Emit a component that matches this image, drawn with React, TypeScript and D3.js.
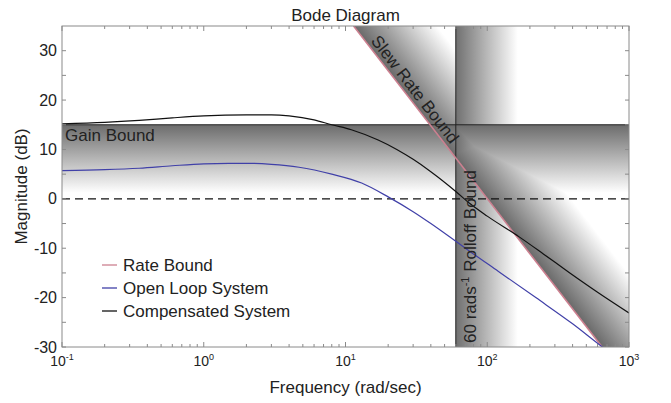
import React from 'react'
import * as d3 from 'd3'

// compensated system (black)
const compFreq = [0.1, 0.2, 0.35, 0.6, 1, 2, 3, 4, 6, 8, 11, 17, 23, 30, 40, 60, 75, 100, 168, 250, 378, 600, 1000]
const compMag = [15.2, 15.5, 15.9, 16.4, 16.8, 17.0, 17.0, 16.8, 16.0, 15.0, 14.0, 11.9, 10.0, 8.0, 5.5, 1.5, -0.9, -3.5, -7.7, -11.2, -14.9, -18.9, -23.1]

// open loop system (blue)
const openFreq = [0.1, 0.2, 0.35, 0.6, 1, 1.5, 2.1, 3, 4.7, 8, 13, 20, 30, 40, 60, 75, 120, 220, 400, 650, 1000]
const openMag = [5.7, 5.9, 6.2, 6.7, 7.1, 7.2, 7.2, 7.0, 6.4, 5.0, 3.2, 0.4, -2.6, -5.0, -8.6, -10.6, -14.7, -20.0, -25.3, -30, -33.8]

// slew rate bound line (two ends)
const rateFreq = [11.4, 646]
const rateMag = [35, -30]

const gainBound = 15
const rolloffFreq = 60

const yTicks = [-30, -20, -10, 0, 10, 20, 30]
const yMinorTicks = [-25, -15, -5, 5, 15, 25]
const xDecades = [-1, 0, 1, 2, 3]

const legendLabels = ['Rate Bound', 'Open Loop System', 'Compensated System']
const legendColors = ['#cc8090', '#4040a8', '#111111']

const W = 671
const H = 403
const left = 62
const right = 629
const top = 26
const bottom = 347
const font = '"Liberation Sans", Arial, Helvetica, sans-serif'

export default function App() {
  const x = d3.scaleLog().domain([0.1, 1000]).range([left, right])
  const y = d3.scaleLinear().domain([-30, 35]).range([bottom, top])

  const line = d3.line<[number, number]>()
    .x(d => x(d[0]))
    .y(d => y(d[1]))
    .curve(d3.curveMonotoneX)
  const straight = d3.line<[number, number]>().x(d => x(d[0])).y(d => y(d[1]))

  const compData = compFreq.map((f, i) => [f, compMag[i]] as [number, number])
  const openData = openFreq.map((f, i) => [f, openMag[i]] as [number, number])
  const rateData = rateFreq.map((f, i) => [f, rateMag[i]] as [number, number])

  // slew band geometry
  const p0 = [x(rateFreq[0]), y(rateMag[0])]
  const p1 = [x(rateFreq[1]), y(rateMag[1])]
  const len = Math.hypot(p1[0] - p0[0], p1[1] - p0[1])
  const u = [(p1[0] - p0[0]) / len, (p1[1] - p0[1]) / len]
  const n = [u[1], -u[0]]
  const big = 1200
  const slewPoly = [
    [p0[0] - u[0] * big, p0[1] - u[1] * big],
    [p1[0] + u[0] * big, p1[1] + u[1] * big],
    [p1[0] + u[0] * big + n[0] * big, p1[1] + u[1] * big + n[1] * big],
    [p0[0] - u[0] * big + n[0] * big, p0[1] - u[1] * big + n[1] * big],
  ].map(p => p.join(',')).join(' ')
  const slewAngle = Math.atan2(u[1], u[0]) * 180 / Math.PI
  const slewText = [p0[0] + u[0] * 22 + n[0] * 4, p0[1] + u[1] * 22 + n[1] * 4]

  const xr = x(rolloffFreq)
  const yg = y(gainBound)

  const minorX: number[] = []
  xDecades.slice(0, -1).forEach(k => {
    for (let m = 2; m <= 9; m++) minorX.push(m * Math.pow(10, k))
  })

  return (
    <svg width={W} height={H} style={{ position: 'absolute', left: 0, top: 0, background: '#fff' }}
      fontFamily={font}>
      <defs>
        <clipPath id="plot">
          <rect x={left} y={top} width={right - left} height={bottom - top} />
        </clipPath>
        <linearGradient id="gGain" gradientUnits="userSpaceOnUse" x1={0} y1={yg} x2={0} y2={yg + 68}>
          <stop offset="0" stopColor="#6c6c6c" />
          <stop offset="1" stopColor="#ffffff" />
        </linearGradient>
        <linearGradient id="gRoll" gradientUnits="userSpaceOnUse" x1={xr} y1={0} x2={xr + 62} y2={0}>
          <stop offset="0" stopColor="#707070" />
          <stop offset="1" stopColor="#ffffff" />
        </linearGradient>
        <linearGradient id="gSlew" gradientUnits="userSpaceOnUse"
          x1={p0[0]} y1={p0[1]} x2={p0[0] + n[0] * 66} y2={p0[1] + n[1] * 66}>
          <stop offset="0" stopColor="#6a6a6a" />
          <stop offset="1" stopColor="#ffffff" />
        </linearGradient>
      </defs>

      <text x={(left + right) / 2} y={21} textAnchor="middle" fontSize={17} fill="#222">Bode Diagram</text>

      <g clipPath="url(#plot)" style={{ isolation: 'isolate' }}>
        <rect x={left} y={top} width={right - left} height={bottom - top} fill="#fff" />
        <rect x={left} y={yg} width={right - left} height={bottom - yg} fill="url(#gGain)" style={{ mixBlendMode: 'darken' }} />
        <rect x={xr} y={top} width={right - xr} height={bottom - top} fill="url(#gRoll)" style={{ mixBlendMode: 'darken' }} />
        <polygon points={slewPoly} fill="url(#gSlew)" style={{ mixBlendMode: 'darken' }} />
      </g>

      <g clipPath="url(#plot)">
        <line x1={left} x2={right} y1={yg} y2={yg} stroke="#222" strokeWidth={1} />
        <line x1={xr} x2={xr} y1={top} y2={bottom} stroke="#222" strokeWidth={1} />
        <line x1={left} x2={right} y1={y(0)} y2={y(0)} stroke="#111" strokeWidth={1.3} strokeDasharray="8,5" />
        <path d={straight(rateData) || ''} fill="none" stroke={legendColors[0]} strokeWidth={1.6} />
        <path d={line(openData) || ''} fill="none" stroke={legendColors[1]} strokeWidth={1.2} />
        <path d={line(compData) || ''} fill="none" stroke={legendColors[2]} strokeWidth={1.2} />
      </g>

      {/* frame and ticks */}
      <rect x={left} y={top} width={right - left} height={bottom - top} fill="none" stroke="#8a8a8a" strokeWidth={1} />
      {yTicks.concat(yMinorTicks).map(t => (
        <g key={'yt' + t} stroke="#8a8a8a">
          <line x1={left} x2={left + 4} y1={y(t)} y2={y(t)} />
          <line x1={right} x2={right - 4} y1={y(t)} y2={y(t)} />
        </g>
      ))}
      {xDecades.map(k => (
        <g key={'xd' + k} stroke="#8a8a8a">
          <line x1={x(Math.pow(10, k))} x2={x(Math.pow(10, k))} y1={bottom} y2={bottom - 5} />
          <line x1={x(Math.pow(10, k))} x2={x(Math.pow(10, k))} y1={top} y2={top + 5} />
        </g>
      ))}
      {minorX.map(f => (
        <g key={'xm' + f} stroke="#8a8a8a">
          <line x1={x(f)} x2={x(f)} y1={bottom} y2={bottom - 3} />
          <line x1={x(f)} x2={x(f)} y1={top} y2={top + 3} />
        </g>
      ))}

      {yTicks.map(t => (
        <text key={'yl' + t} x={left - 5} y={y(t)} dy="0.35em" textAnchor="end" fontSize={16} fill="#222">{t}</text>
      ))}
      {xDecades.map(k => (
        <text key={'xl' + k} x={x(Math.pow(10, k))} y={366} textAnchor="middle" fontSize={14} fill="#222">
          10<tspan fontSize={9} dy={-6}>{k}</tspan>
        </text>
      ))}

      <text x={(left + right) / 2} y={393} textAnchor="middle" fontSize={17} fill="#222">Frequency (rad/sec)</text>
      <text transform={`translate(27,${(top + bottom) / 2}) rotate(-90)`} textAnchor="middle" fontSize={17} fill="#222">Magnitude (dB)</text>

      <text x={65} y={141} fontSize={17} fill="#222">Gain Bound</text>
      <text transform={`translate(${slewText[0]},${slewText[1]}) rotate(${slewAngle})`} fontSize={17} fill="#222">Slew Rate Bound</text>
      <text transform={`translate(${xr + 20},343) rotate(-90)`} fontSize={17} fill="#222">
        60 rads<tspan fontSize={11} dy={-7}>-1</tspan><tspan dy={7}> Rolloff Bound</tspan>
      </text>

      {legendLabels.map((lab, i) => (
        <g key={lab}>
          <line x1={102} x2={117} y1={265 + i * 23} y2={265 + i * 23} stroke={legendColors[i]} strokeWidth={1.3} />
          <text x={123} y={271 + i * 23} fontSize={17} fill="#222">{lab}</text>
        </g>
      ))}
    </svg>
  )
}
